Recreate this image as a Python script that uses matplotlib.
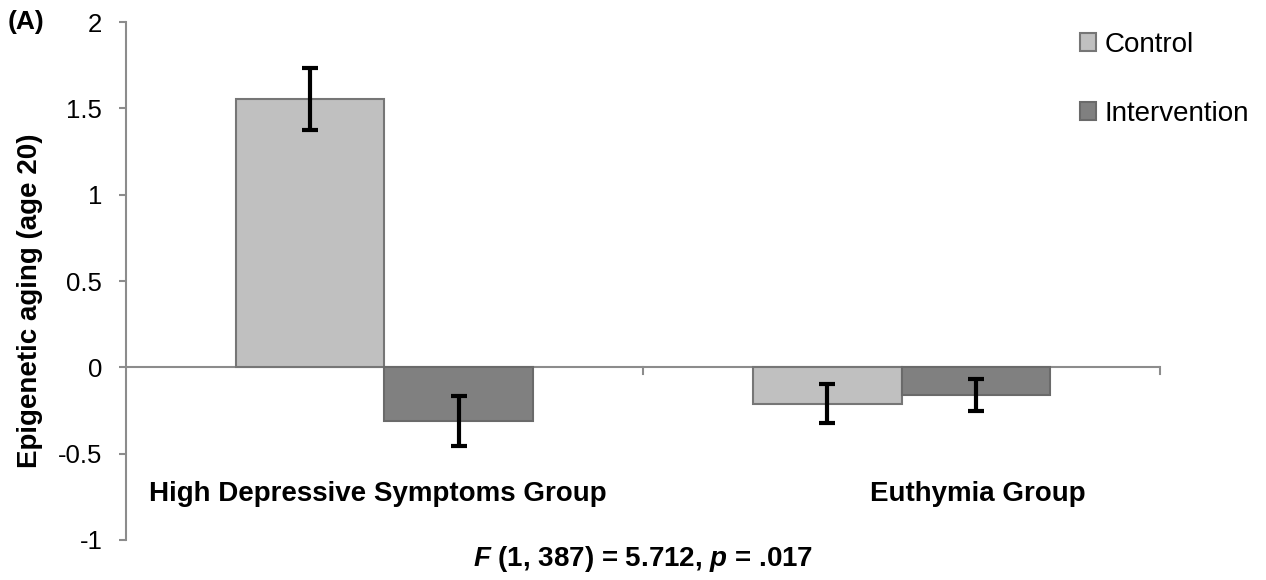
import matplotlib
matplotlib.use('Agg')
import matplotlib.pyplot as plt
from matplotlib.patches import Patch

plt.rcParams['font.family'] = ['Liberation Sans', 'DejaVu Sans']
plt.rcParams['mathtext.fontset'] = 'custom'
plt.rcParams['mathtext.rm'] = 'Liberation Sans:bold'
plt.rcParams['mathtext.it'] = 'Liberation Sans:italic:bold'
plt.rcParams['mathtext.bf'] = 'Liberation Sans:bold'

groups = ['High Depressive Symptoms Group', 'Euthymia Group']
series = ['Control', 'Intervention']
control = [1.555, -0.21]
control_err = [0.18, 0.113]
intervention = [-0.31, -0.16]
intervention_err = [0.145, 0.093]
yticks = [-1, -0.5, 0, 0.5, 1, 1.5, 2]
yticklabels = ['-1', '-0.5', '0', '0.5', '1', '1.5', '2']

fig = plt.figure(figsize=(12.66, 5.8), dpi=100)
ax = fig.add_axes([0.0995, 0.069, 0.8168, 0.893])

width = 0.288
pos = [0, 1]
axis_gray = '#8c8c8c'
ax.bar([p - width / 2 for p in pos], control, width, color='#c0c0c0',
       edgecolor='#767676', linewidth=1.5, zorder=2, label=series[0])
ax.bar([p + width / 2 for p in pos], intervention, width, color='#808080',
       edgecolor='#6a6a6a', linewidth=1.5, zorder=2, label=series[1])
ax.errorbar([p - width / 2 for p in pos], control, yerr=control_err, fmt='none',
            ecolor='black', elinewidth=3, capsize=6, capthick=3, zorder=3)
ax.errorbar([p + width / 2 for p in pos], intervention, yerr=intervention_err,
            fmt='none', ecolor='black', elinewidth=3, capsize=6, capthick=3, zorder=3)

ax.set_xlim(-0.5, 1.5)
ax.set_ylim(-1, 2)

# zero line as category axis
ax.axhline(0, color=axis_gray, linewidth=1.5, zorder=1)
for xt in [0.5, 1.5]:
    ax.plot([xt, xt], [0, -0.04], color=axis_gray, linewidth=1.5,
            clip_on=False, zorder=1)

for s in ['top', 'right', 'bottom']:
    ax.spines[s].set_visible(False)
ax.spines['left'].set_color(axis_gray)
ax.spines['left'].set_linewidth(1.5)
ax.set_xticks([])
ax.set_yticks(yticks)
ax.set_yticklabels(yticklabels)
ax.tick_params(axis='y', length=5, width=1.5, color=axis_gray, labelsize=18.5, pad=12)

ax.set_ylabel('Epigenetic aging (age 20)', fontsize=20, fontweight='bold')
ax.yaxis.set_label_coords(-0.080, 0.461)

# category labels sit inside the plot
ax.text(-0.012, -0.735, groups[0], ha='center', va='center', fontsize=20, fontweight='bold')
ax.text(1.147, -0.735, groups[1], ha='center', va='center', fontsize=20, fontweight='bold')

fig.text(0.006, 0.962, '(A)', ha='left', va='center', fontsize=19, fontweight='bold')
ax.text(0.5, -1.11, r'$\it{F}$ (1, 387) = 5.712, $\it{p}$ = .017', ha='center',
        va='center', fontsize=20, fontweight='bold')

handles = [Patch(facecolor='#c0c0c0', edgecolor='#767676', linewidth=1.5),
           Patch(facecolor='#808080', edgecolor='#6a6a6a', linewidth=1.5)]
leg = fig.legend(handles, series, loc='upper left', bbox_to_anchor=(0.833, 0.988),
                 frameon=False, fontsize=20, handlelength=0.6, handleheight=0.6,
                 handletextpad=0.3, labelspacing=1.55)

fig.savefig('out.png', dpi=100)
